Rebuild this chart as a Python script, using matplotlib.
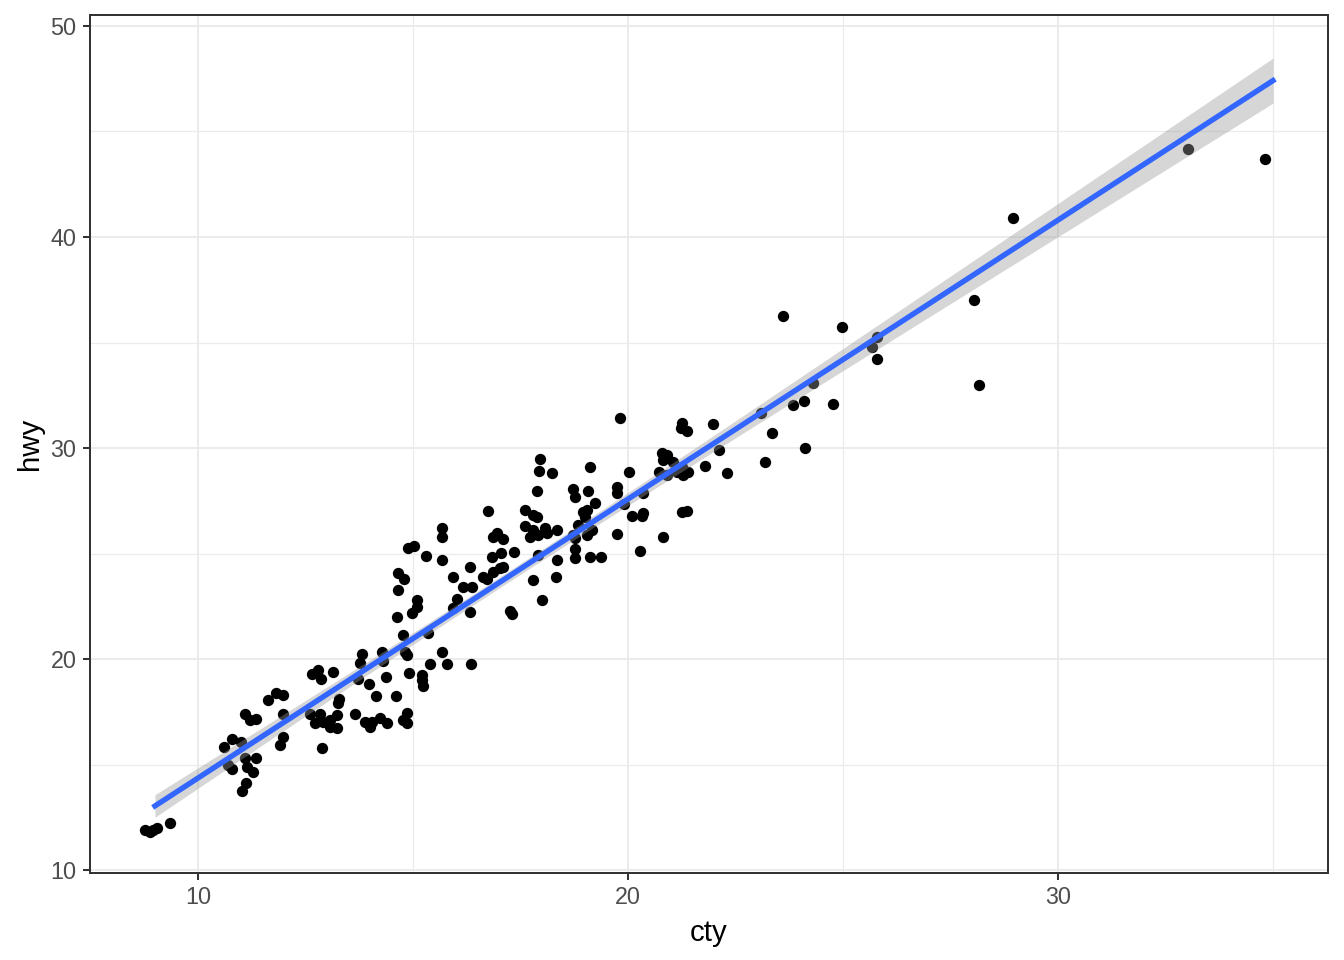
import numpy as np
import matplotlib
matplotlib.use("Agg")
import matplotlib.pyplot as plt

# --- Data (jittered points) ---
cty = [8.77, 8.88, 8.95, 9.05, 9.35, 10.60, 10.79, 11.00, 11.09, 11.21, 11.35,
       10.70, 10.79, 11.09, 11.35, 11.14, 11.28, 11.12, 11.02, 11.63, 11.81,
       11.98, 11.98, 11.98, 11.91,
       12.65, 12.79, 12.86, 13.14, 13.81, 13.77, 14.28, 14.30, 14.81, 14.86,
       13.72, 13.98, 14.37, 14.14, 14.60, 14.91, 15.21, 15.21, 15.23, 15.40,
       15.67, 15.79, 16.35, 13.28, 13.26, 12.60, 12.84, 12.72, 12.91, 13.07,
       13.23, 13.23, 13.07, 13.65, 13.88, 14.00, 14.05, 14.23, 14.40, 14.86,
       14.77, 14.86, 12.88,
       14.77, 15.35, 14.63, 14.98, 15.09, 15.09, 14.65, 14.65, 14.79, 14.88,
       15.02, 15.30,
       15.67, 15.67, 15.67, 17.95, 17.93, 18.23, 19.12, 17.88, 18.72, 19.07,
       18.77, 19.23, 19.74, 19.74, 16.74, 17.60, 17.79, 17.88, 17.60, 17.72,
       17.79, 17.91, 18.07, 18.12, 18.35, 18.95, 19.05, 19.00, 18.84, 18.72,
       18.77, 19.05, 19.16, 19.74, 16.95, 16.86, 17.09, 16.84, 17.05, 17.35,
       17.91, 18.35, 18.77, 18.77, 19.12, 19.37, 16.33, 15.93, 16.63, 16.72,
       16.86, 17.02, 17.09, 16.16, 16.37, 17.79, 18.33, 16.02, 15.93, 16.33,
       18.00, 17.26, 17.30,
       19.81, 23.60, 24.98, 25.67, 25.79, 25.79, 24.30, 24.09, 23.84, 24.77,
       23.09, 23.35, 24.12, 23.19, 21.98, 21.26, 21.23, 21.37, 22.12, 21.79,
       22.30, 20.79, 20.91, 20.81, 21.05, 20.72, 20.91, 21.14, 21.28, 21.40,
       21.26, 20.02, 20.35, 19.91, 20.09, 20.33, 20.35, 21.26, 21.37, 20.81,
       20.28,
       28.95, 33.02, 34.81, 28.05, 28.16]

hwy = [11.90, 11.80, 11.90, 11.99, 12.23, 15.83, 16.21, 16.07, 17.39, 17.11, 17.16,
       14.98, 14.79, 15.31, 15.31, 14.88, 14.64, 14.12, 13.74, 18.06, 18.39,
       18.29, 17.39, 16.30, 15.92,
       19.29, 19.48, 19.05, 19.38, 20.24, 19.81, 20.33, 19.91, 20.33, 20.19,
       19.05, 18.82, 19.15, 18.25, 18.25, 19.34, 19.24, 19.00, 18.72, 19.76,
       20.33, 19.76, 19.76, 18.10, 17.91, 17.39, 17.39, 16.97, 17.01, 16.78,
       16.73, 17.35, 17.11, 17.39, 17.01, 16.78, 17.01, 17.20, 16.97, 17.44,
       17.11, 16.97, 15.78,
       21.14, 21.23, 21.99, 22.18, 22.80, 22.46, 23.27, 24.08, 23.79, 25.26,
       25.36, 24.88,
       26.21, 25.78, 24.69, 29.48, 28.91, 28.82, 29.10, 27.96, 28.06, 27.96,
       27.68, 27.39, 28.15, 27.87, 27.01, 27.06, 26.82, 26.73, 26.30, 25.78,
       26.11, 25.88, 26.21, 25.97, 26.11, 26.97, 27.06, 26.73, 26.35, 25.88,
       25.73, 25.88, 26.11, 25.92, 25.97, 25.78, 25.69, 24.83, 25.02, 25.07,
       24.93, 24.69, 25.21, 24.79, 24.83, 24.83, 24.36, 23.89, 23.89, 23.79,
       24.12, 24.31, 24.36, 23.41, 23.41, 23.74, 23.89, 22.84, 22.42, 22.23,
       22.80, 22.27, 22.13,
       31.42, 36.26, 35.73, 34.79, 34.22, 35.26, 33.08, 32.23, 32.04, 32.09,
       31.66, 30.71, 30.00, 29.34, 31.14, 31.18, 30.95, 30.81, 29.91, 29.15,
       28.82, 29.76, 29.67, 29.43, 29.34, 28.86, 28.72, 28.86, 28.72, 28.86,
       29.10, 28.86, 27.87, 27.35, 26.78, 26.78, 26.92, 26.97, 27.01, 25.78,
       25.12,
       40.90, 44.17, 43.70, 37.01, 32.99]

x_ticks = [10, 20, 30]
y_ticks = [10, 20, 30, 40, 50]

# --- Linear fit (on un-jittered integer values, like geom_smooth on raw data) ---
xr = np.round(np.array(cty))
yr = np.round(np.array(hwy))
n = len(xr)
slope, intercept = np.polyfit(xr, yr, 1)
resid = yr - (intercept + slope * xr)
s = np.sqrt(np.sum(resid ** 2) / (n - 2))
sxx = np.sum((xr - xr.mean()) ** 2)
t_crit = 1.97
xs = np.linspace(xr.min(), xr.max(), 80)
ys = intercept + slope * xs
se = s * np.sqrt(1 / n + (xs - xr.mean()) ** 2 / sxx)

# --- Plot ---
plt.rcParams['font.family'] = ['Liberation Sans', 'DejaVu Sans']
fig = plt.figure(figsize=(1344 / 144, 960 / 144), dpi=144)
ax = fig.add_axes([90 / 1344, 1 - 873 / 960, (1328 - 90) / 1344, (873 - 15) / 960])

ax.scatter(cty, hwy, s=32, color='black', linewidths=0, zorder=3)
ax.fill_between(xs, ys - t_crit * se, ys + t_crit * se, color='#999999',
                alpha=0.4, linewidth=0, zorder=4)
ax.plot(xs, ys, color='#3366FF', lw=2.7, zorder=5)

ax.set_xlim(7.49, 36.28)
ax.set_ylim(9.86, 50.52)
ax.set_xticks(x_ticks)
ax.set_yticks(y_ticks)
ax.set_xticks([15, 25, 35], minor=True)
ax.set_yticks([15, 25, 35, 45], minor=True)
ax.grid(True, which='major', color='#EBEBEB', lw=1.0, zorder=0)
ax.grid(True, which='minor', color='#EBEBEB', lw=0.6, zorder=0)
ax.set_axisbelow(True)

ax.tick_params(which='major', length=3.7, width=1.0, color='#333333',
               labelsize=11.7, labelcolor='#4D4D4D', pad=3)
ax.tick_params(which='minor', length=0)
for sp in ax.spines.values():
    sp.set_color('#333333')
    sp.set_linewidth(1.0)

ax.set_xlabel('cty', fontsize=14.7, color='black', labelpad=5)
ax.set_ylabel('hwy', fontsize=14.7, color='black', labelpad=3)

fig.savefig('out.png', dpi=144)
